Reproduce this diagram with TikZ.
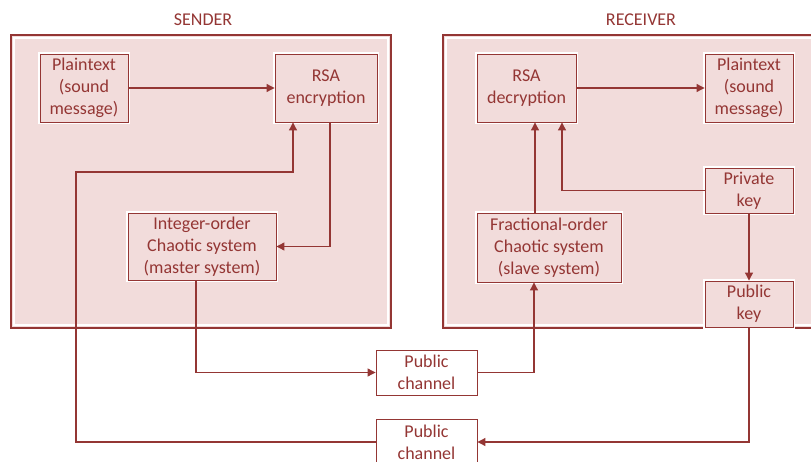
\documentclass[tikz,border=0pt]{standalone}
\usepackage{fontspec}
\setmainfont{Carlito}
\usepackage{tikz}
\usetikzlibrary{arrows.meta, positioning, calc}
\definecolor{darkred}{HTML}{943634}
\definecolor{rosefill}{HTML}{F2DCDB}

\begin{document}
\begin{tikzpicture}[
		x=1pt, y=-1pt,
		every node/.style={text=darkred, font=\fontsize{18}{22}\selectfont},
		block/.style={draw=darkred, fill=rosefill, line width=0.9pt, align=center, inner sep=0pt,
			preaction={draw=white, line width=3.5pt}},
		chan/.style={draw=darkred, fill=white, line width=0.9pt, align=center, inner sep=0pt,
			minimum width=101pt, minimum height=45pt},
		side/.style={draw=darkred, fill=rosefill, line width=2pt},
		link/.style={draw=darkred, line width=1.1pt, -{Triangle[length=8pt,width=8pt]}},
		wire/.style={draw=darkred, line width=1.1pt}
	]
	\path[use as bounding box, clip] (0,0) rectangle (811,462);

	\draw[side] (11,35) rectangle (391,328);
	\draw[white, line width=1.2pt] (14,38) rectangle (388,325);
	\draw[side] (443,35) rectangle (830,328);
	\draw[white, line width=1.2pt] (446,38) rectangle (827,325);

	\node (sendtitle) at (203,20) {SENDER};
	\node (recvtitle) at (641,20) {RECEIVER};

	\node[block, minimum width=88pt, minimum height=68pt] (ptS) at (84,88) {Plaintext\\(sound\\message)};
	\node[block, minimum width=102pt, minimum height=68pt] (enc) at (326,88) {RSA\\encryption};
	\node[block, minimum width=148pt, minimum height=67pt] (master) at (202,246.5)
		{Integer-order\\Chaotic system\\(master system)};

	\node[block, minimum width=99pt, minimum height=68pt] (dec) at (526.5,88) {RSA\\decryption};
	\node[block, minimum width=88pt, minimum height=68pt] (ptR) at (749,88) {Plaintext\\(sound\\message)};
	\node[block, minimum width=88pt, minimum height=45pt] (private) at (749,190.5) {Private\\key};
	\node[block, minimum width=144pt, minimum height=69pt] (slave) at (549,247.5)
		{Fractional-order\\Chaotic system\\(slave system)};
	\node[block, minimum width=88pt, minimum height=46pt] (pubkey) at (749,304) {Public\\key};

	\node[chan] (pc1) at (426.5,372.5) {Public\\channel};
	\node[chan, minimum height=46pt] (pc2) at (426.5,442) {Public\\channel};
	\coordinate (bend) at (76,172);

	\draw[link] (ptS) -- (enc);
	\draw[link] ([xshift=4pt]enc.south) |- (master.east);
	\draw[link] ([xshift=-6pt]master.south) |- (pc1.west);
	\draw[link] (pc1.east) -| ([xshift=-15pt]slave.south);
	\draw[link] ([xshift=-14pt]slave.north) -- ([xshift=-14pt]slave.north |- dec.south);
	\draw[link] (private.west) -| ([xshift=35.5pt]dec.south);
	\draw[link] (dec) -- (ptR);
	\draw[link] (private) -- (pubkey);
	\draw[link] (pubkey.south) |- (pc2.east);
	\draw[link] (pc2.west) -| (bend) -| ([xshift=-33pt]enc.south);
\end{tikzpicture}
\end{document}
